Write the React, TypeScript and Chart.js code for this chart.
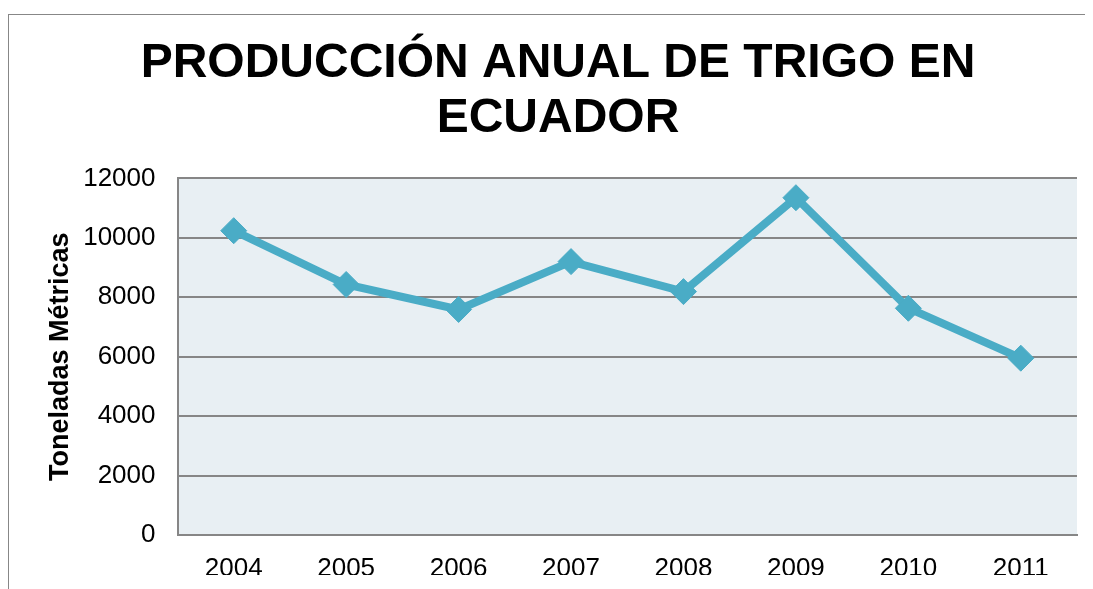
import React, { useEffect, useRef } from "react";
import { Chart, registerables } from "chart.js";

Chart.register(...registerables);

const years = ["2004", "2005", "2006", "2007", "2008", "2009", "2010", "2011"];
const production = [10240, 8430, 7590, 9200, 8190, 11350, 7630, 5950];
const titleLines = ["PRODUCCIÓN ANUAL DE TRIGO EN", "ECUADOR"];
const yAxisTitle = "Toneladas Métricas";

const FONT = "'Liberation Sans', Arial, Helvetica, sans-serif";

const plotBg = {
  id: "plotBg",
  beforeDraw(chart: any) {
    const { ctx, chartArea } = chart;
    ctx.save();
    ctx.fillStyle = "#E8EFF3";
    ctx.fillRect(chartArea.left, chartArea.top, chartArea.right - chartArea.left, chartArea.bottom - chartArea.top);
    ctx.restore();
  },
};

export default function App() {
  const ref = useRef<HTMLCanvasElement>(null);
  useEffect(() => {
    if (!ref.current) return;
    const chart = new Chart(ref.current, {
      type: "line",
      data: {
        labels: years,
        datasets: [
          {
            data: production,
            borderColor: "#4AACC6",
            backgroundColor: "#4AACC6",
            borderWidth: 8,
            pointStyle: "rectRot",
            pointRadius: 13,
            pointBorderWidth: 1,
            pointBackgroundColor: "#4AACC6",
            pointBorderColor: "#4AACC6",
            tension: 0,
          },
        ],
      },
      options: {
        animation: false,
        responsive: false,
        devicePixelRatio: 1,
        layout: { padding: { left: 30, right: 28, top: 0, bottom: 14 } },
        plugins: {
          legend: { display: false },
          tooltip: { enabled: false },
          title: {
            display: true,
            text: titleLines,
            color: "#000",
            font: { family: FONT, size: 48, weight: "bold", lineHeight: 1.15 },
            padding: { top: 21, bottom: 32 },
          },
        },
        scales: {
          x: {
            offset: true,
            grid: { display: false, drawTicks: false },
            border: { display: true, color: "#868686", width: 2 },
            ticks: { color: "#000", font: { family: FONT, size: 26 }, padding: 18, maxRotation: 0 },
            afterFit(scale: any) {
              scale.height = 40;
            },
          },
          y: {
            min: 0,
            max: 12000,
            ticks: {
              stepSize: 2000,
              color: "#000",
              font: { family: FONT, size: 26 },
              padding: 22,
              callback: (v: any) => String(v),
            },
            grid: { color: "#868686", lineWidth: 2, drawTicks: false },
            border: { display: true, color: "#868686", width: 2 },
            title: {
              display: true,
              text: yAxisTitle,
              color: "#000",
              font: { family: FONT, size: 27, weight: "bold" },
              padding: { top: 5, bottom: 0 },
            },
            afterFit(scale: any) {
              scale.width = 138.5;
            },
          },
        },
      },
      plugins: [plotBg],
    });
    return () => chart.destroy();
  }, []);

  return (
    <div style={{ width: 1085, height: 581, overflow: "hidden" }}>
      <div style={{ paddingTop: 6 }}>
        <div
          style={{
            width: 1120,
            height: 600,
            borderLeft: "1px solid #878787",
            borderTop: "1px solid #878787",
            background: "#fff",
          }}
        >
          <canvas ref={ref} width={1096} height={574} style={{ display: "block", width: 1096, height: 574 }} />
        </div>
      </div>
    </div>
  );
}
